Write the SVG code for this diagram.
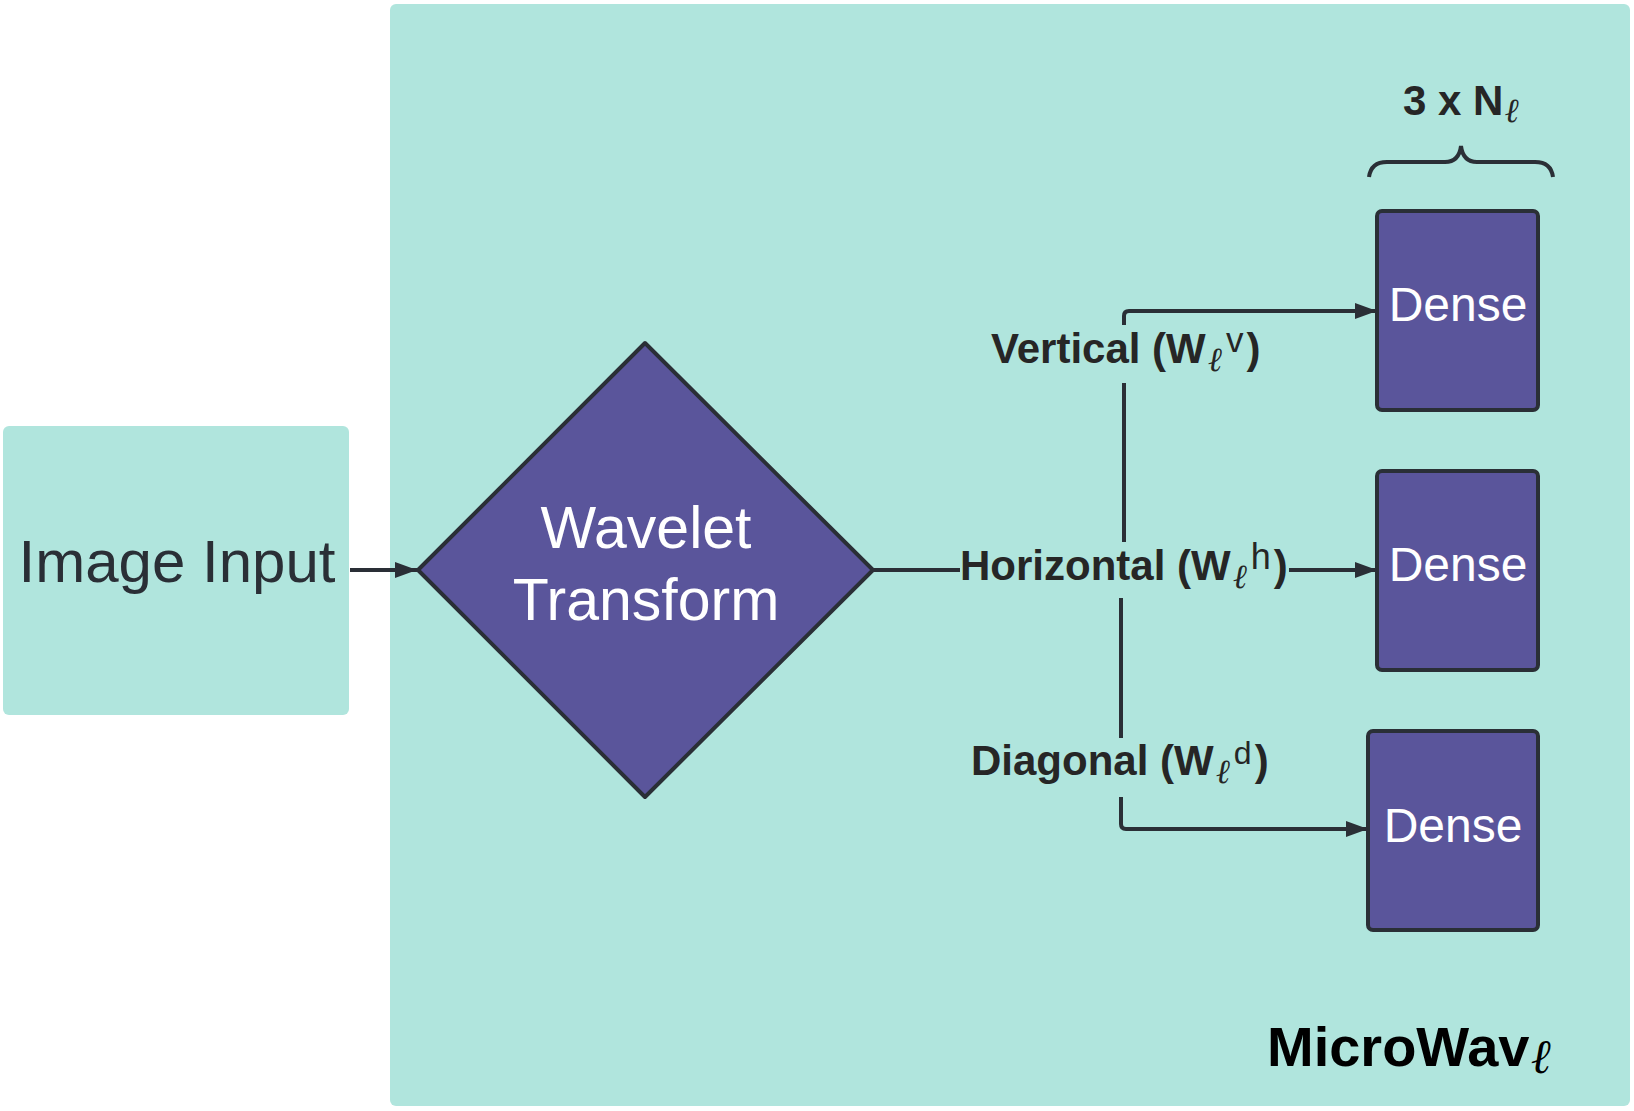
<svg xmlns="http://www.w3.org/2000/svg" width="1634" height="1111" viewBox="0 0 1634 1111">
<defs>
<style>
.teal{fill:#b0e5dd}
.purple{fill:#5a559b;stroke:#2a2f36;stroke-width:4;stroke-linejoin:round}
.conn{fill:none;stroke:#2a2f36;stroke-width:4}
.white{fill:#ffffff;font-family:"Liberation Sans",Arial,sans-serif}
.lbl{fill:#262626;font-family:"Liberation Sans",Arial,sans-serif;font-weight:bold;font-size:42px}
.ell{font-family:"DejaVu Serif",serif;font-style:italic;font-weight:normal;font-size:34px}
.sup{font-weight:normal}
</style>
<marker id="arr" markerUnits="userSpaceOnUse" markerWidth="24" markerHeight="18" refX="22" refY="8" orient="auto">
<path d="M0,0 L22,8 L0,16 Z" fill="#2a2f36"/>
</marker>
</defs>
<rect width="1634" height="1111" fill="#ffffff"/>
<g id="microwav-panel">
<rect class="teal" x="390" y="4" width="1240" height="1102" rx="6"/>
<text x="1267" y="1066" font-family="Liberation Sans,Arial,sans-serif" font-weight="bold" font-size="56" fill="#000">MicroWav<tspan font-family="DejaVu Serif,serif" font-style="italic" font-weight="bold" font-size="48" dx="2" dy="7">ℓ</tspan></text>
</g>
<g id="image-input">
<rect class="teal" x="3" y="426" width="346" height="289" rx="6"/>
<text x="177" y="582" font-family="Liberation Sans,Arial,sans-serif" font-size="60" text-anchor="middle" fill="#2a2f36">Image Input</text>
</g>
<g id="wavelet-transform">
<path class="purple" d="M645,343 L873,570 L645,797 L418,570 Z"/>
<text class="white" x="646" y="548" font-size="59" text-anchor="middle">Wavelet</text>
<text class="white" x="646" y="620" font-size="59" text-anchor="middle">Transform</text>
</g>
<g id="dense-v">
<rect class="purple" x="1377" y="211" width="161" height="199" rx="5"/>
<text class="white" x="1458" y="321" font-size="48" text-anchor="middle">Dense</text>
</g>
<g id="dense-h">
<rect class="purple" x="1377" y="471" width="161" height="199" rx="5"/>
<text class="white" x="1458" y="581" font-size="48" text-anchor="middle">Dense</text>
</g>
<g id="dense-d">
<rect class="purple" x="1368" y="731" width="170" height="199" rx="5"/>
<text class="white" x="1453" y="842" font-size="48" text-anchor="middle">Dense</text>
</g>
<g id="brace">
<path class="conn" d="M1369,177 Q1371,162 1387,162 H1445 Q1459,162 1461,146 Q1463,162 1477,162 H1535 Q1551,162 1553,177"/>
<text x="1403" y="115" font-family="Liberation Sans,Arial,sans-serif" font-weight="bold" font-size="42" fill="#262626">3 x N<tspan font-family="DejaVu Serif,serif" font-style="italic" font-weight="normal" font-size="34" dx="1" dy="7">ℓ</tspan></text>
</g>
<g id="connectors">
<path class="conn" d="M350,570 H417" marker-end="url(#arr)"/>
<path class="conn" d="M873,570 H960"/>
<path class="conn" d="M1289,570 H1377" marker-end="url(#arr)"/>
<path class="conn" d="M1124,325 V316 Q1124,311 1129,311 H1377" marker-end="url(#arr)"/>
<path class="conn" d="M1124,383 V542"/>
<path class="conn" d="M1121,598 V738"/>
<path class="conn" d="M1121,797 V824 Q1121,829 1126,829 H1368" marker-end="url(#arr)"/>
</g>
<g id="labels">
<text class="lbl" x="991" y="363">Vertical (W<tspan class="ell" dx="2" dy="8">ℓ</tspan><tspan class="sup" font-size="35" dx="4" dy="-19">v</tspan><tspan dx="3" dy="11">)</tspan></text>
<text class="lbl" x="960" y="580">Horizontal (W<tspan class="ell" dx="2" dy="8">ℓ</tspan><tspan class="sup" font-size="36" dx="4" dy="-19">h</tspan><tspan dx="3" dy="11">)</tspan></text>
<text class="lbl" x="971" y="775">Diagonal (W<tspan class="ell" dx="2" dy="8">ℓ</tspan><tspan class="sup" font-size="32" dx="4" dy="-19">d</tspan><tspan dx="3" dy="11">)</tspan></text>
</g>
</svg>
